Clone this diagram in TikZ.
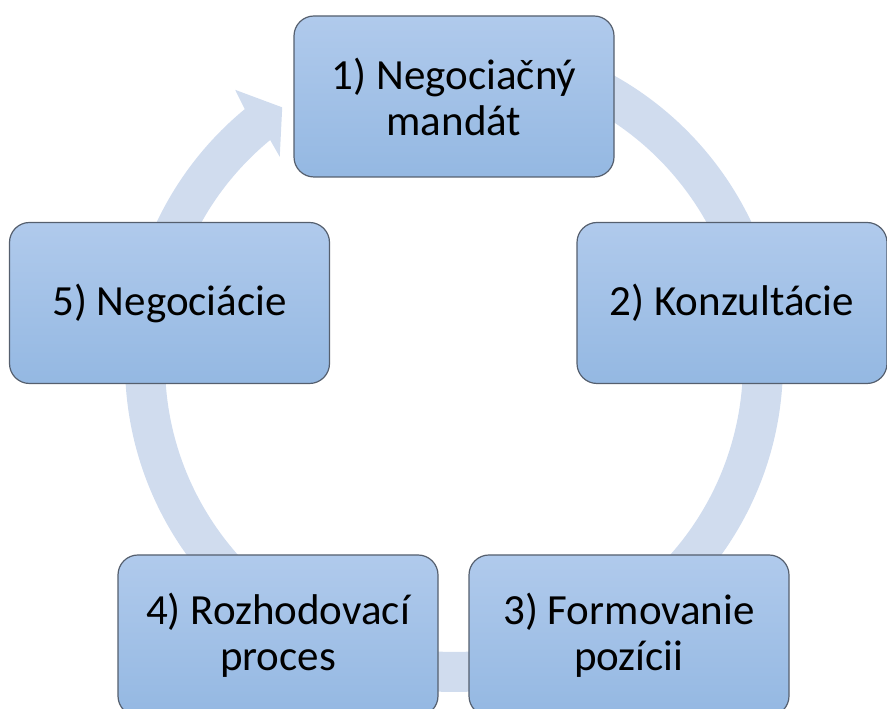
\documentclass[tikz,border=0pt]{standalone}
\usepackage{fontspec}
\setmainfont{Carlito}
\definecolor{ringblue}{RGB}{208,220,238}
\definecolor{boxtop}{RGB}{176,202,236}
\definecolor{boxbottom}{RGB}{148,184,226}
\definecolor{boxline}{RGB}{85,95,110}

\begin{document}
\begin{tikzpicture}[
  x=1pt, y=1pt,
  stage/.style={
    draw=boxline,
    line width=1.2pt,
    top color=boxtop,
    bottom color=boxbottom,
    rounded corners=20pt,
    minimum width=320pt,
    minimum height=161pt,
    inner sep=0pt,
    align=center,
    font=\fontsize{43}{46}\selectfont
  }
]
\useasboundingbox (0,0) rectangle (887,709);

% continuous ring behind the stages, one head at the top left
\begin{scope}[shift={(454,346)}]
\fill[ringblue] (90:329pt)
  arc[start angle=90, end angle=-230.5, radius=329pt]
  -- (-231.3:350pt) -- (-236.1:308pt) -- (-229.8:270pt)
  -- (-230.5:289pt)
  arc[start angle=-230.5, end angle=90, radius=289pt] -- cycle;
\end{scope}

\node[stage] (mandat) at (454,612.5) {1) Negociačný\\mandát};
\node[stage,minimum width=310pt] (konz) at (732,406) {2) Konzultácie};
\node[stage] (pozicie) at (629,73.5) {3) Formovanie\\pozícii};
\node[stage] (rozhod) at (278,73.5) {4) Rozhodovací\\proces};
\node[stage] (negoc) at (169.5,406) {5) Negociácie};
\end{tikzpicture}
\end{document}
